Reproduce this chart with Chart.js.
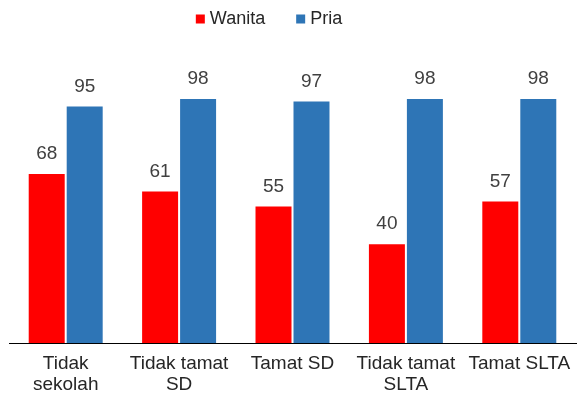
<!DOCTYPE html>
<html>
<head>
<meta charset="utf-8">
<script src="https://cdn.jsdelivr.net/npm/chart.js@4/dist/chart.umd.min.js"></script>
<style>
  html, body { margin: 0; padding: 0; background: #fff; }
  #wrap { width: 578px; height: 401px; }
</style>
</head>
<body>
<div id="wrap"><canvas id="chart"></canvas></div>
<script>
const categories = [['Tidak', 'sekolah'], ['Tidak tamat', 'SD'], 'Tamat SD', ['Tidak tamat', 'SLTA'], 'Tamat SLTA'];
const wanita = [68, 61, 55, 40, 57];
const pria = [95, 98, 97, 98, 98];

const FONT = '"Liberation Sans", Arial, sans-serif';

// simple value labels above each bar
const valueLabels = {
    id: 'valueLabels',
    afterDatasetsDraw(chart) {
        const ctx = chart.ctx;
        ctx.save();
        ctx.font = '19px ' + FONT;
        ctx.fillStyle = '#404040';
        ctx.textAlign = 'center';
        ctx.textBaseline = 'alphabetic';
        chart.data.datasets.forEach((ds, i) => {
            chart.getDatasetMeta(i).data.forEach((bar, j) => {
                ctx.fillText(ds.data[j], bar.x, bar.y - 14);
            });
        });
        ctx.restore();
    }
};

// legend drawn by hand so it can sit a little left of centre, like the original
const topLegend = {
    id: 'topLegend',
    afterDraw(chart) {
        const ctx = chart.ctx;
        ctx.save();
        ctx.font = '18px ' + FONT;
        ctx.textBaseline = 'middle';
        const items = chart.data.datasets.map(ds => ({ text: ds.label, color: ds.backgroundColor }));
        const box = 9, gap = 5, spacing = 31;
        let total = 0;
        items.forEach((it, i) => {
            it.w = ctx.measureText(it.text).width;
            total += box + gap + it.w + (i < items.length - 1 ? spacing : 0);
        });
        let x = 269 - total / 2;
        const y = 19;
        items.forEach(it => {
            ctx.fillStyle = it.color;
            ctx.fillRect(x, y - box / 2, box, box);
            x += box + gap;
            ctx.fillStyle = '#262626';
            ctx.fillText(it.text, x, y);
            x += it.w + spacing;
        });
        ctx.restore();
    }
};

const ctx = document.getElementById('chart').getContext('2d');
new Chart(ctx, {
    type: 'bar',
    data: {
        labels: categories,
        datasets: [
            { label: 'Wanita', data: wanita, backgroundColor: '#ff0000', borderColor: '#ffffff', borderWidth: 1,
              categoryPercentage: 0.67, barPercentage: 1.0 },
            { label: 'Pria', data: pria, backgroundColor: '#2e75b6', borderColor: '#ffffff', borderWidth: 1,
              categoryPercentage: 0.67, barPercentage: 1.0 }
        ]
    },
    options: {
        responsive: true,
        maintainAspectRatio: false,
        animation: false,
        layout: { padding: { left: 9, right: 2, top: 43, bottom: 4 } },
        plugins: {
            legend: { display: false },
            tooltip: { enabled: false }
        },
        scales: {
            x: {
                grid: { display: false },
                border: { color: '#000000', width: 1 },
                ticks: {
                    color: '#262626',
                    padding: 2,
                    maxRotation: 0,
                    autoSkip: false,
                    font: { size: 19, family: FONT, lineHeight: 1.1 }
                }
            },
            y: {
                display: false,
                min: 0,
                max: 120
            }
        }
    },
    plugins: [valueLabels, topLegend]
});
</script>
</body>
</html>
